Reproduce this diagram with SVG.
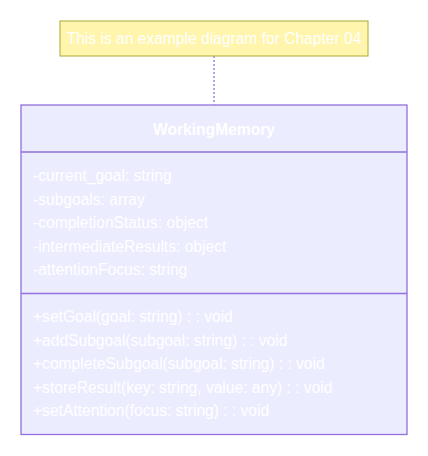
<svg xmlns="http://www.w3.org/2000/svg" width="428" height="456" viewBox="0 0 428 456">
<style>
.bg{fill:#ffffff}
.note{fill:#fff5ad;stroke:#aaaa33;stroke-width:1}
.cls{fill:#ececff;stroke:#9370db;stroke-width:1.3}
.div{stroke:#9370db;stroke-width:1.3}
.t{font-family:"Liberation Sans",Arial,sans-serif;font-size:15.6px;fill:#ffffff}
.title{font-weight:bold;text-anchor:middle}
.conn{stroke:#9370db;stroke-width:1.3;stroke-dasharray:2 2;fill:none}
</style>
<rect class="bg" x="0" y="0" width="428" height="456"/>
<g id="connectors">
<path class="conn" d="M214 56 L214 104.5"/>
</g>
<g id="note">
<rect class="note" x="60" y="21" width="308" height="35"/>
<text class="t" x="214" y="44" text-anchor="middle">This is an example diagram for Chapter 04</text>
</g>
<g id="WorkingMemory">
<rect class="cls" x="21" y="105" width="386" height="329.5"/>
<line class="div" x1="21" y1="152" x2="407" y2="152"/>
<line class="div" x1="21" y1="293.5" x2="407" y2="293.5"/>
<text class="t title" x="214" y="135">WorkingMemory</text>
<text class="t" x="33" y="181">-current_goal: string</text>
<text class="t" x="33" y="204.5">-subgoals: array</text>
<text class="t" x="33" y="228">-completionStatus: object</text>
<text class="t" x="33" y="251.5">-intermediateResults: object</text>
<text class="t" x="33" y="275">-attentionFocus: string</text>
<text class="t" x="33" y="322">+setGoal(goal: string) : : void</text>
<text class="t" x="33" y="345.5">+addSubgoal(subgoal: string) : : void</text>
<text class="t" x="33" y="369">+completeSubgoal(subgoal: string) : : void</text>
<text class="t" x="33" y="392.5">+storeResult(key: string, value: any) : : void</text>
<text class="t" x="33" y="416">+setAttention(focus: string) : : void</text>
</g>
</svg>
